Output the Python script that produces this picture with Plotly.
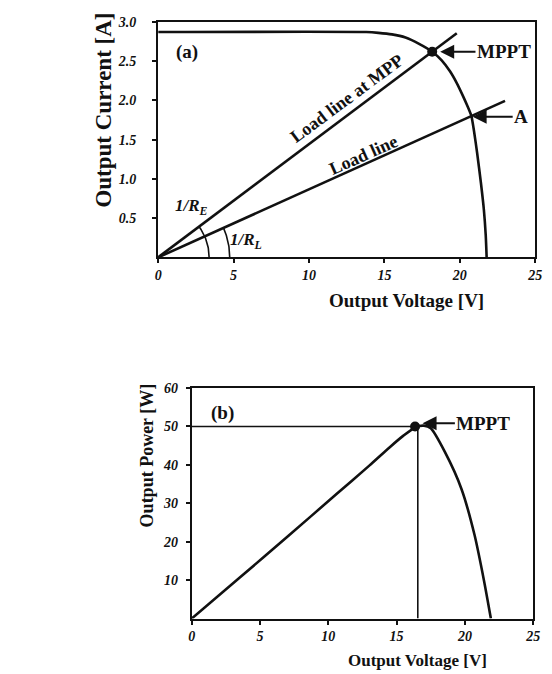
import numpy as np
import plotly.graph_objects as go

# ---------------- data ----------------
# (a) I-V curve
iv_v = [0, 13.8, 14.6, 15.5, 16.4, 17.3, 18.17, 18.8, 19.35, 19.8, 20.2, 20.5, 20.77, 20.95, 21.15, 21.4, 21.6, 21.72, 21.78]
iv_i = [2.87, 2.87, 2.86, 2.84, 2.80, 2.72, 2.62, 2.51, 2.37, 2.22, 2.06, 1.93, 1.80, 1.60, 1.33, 0.95, 0.60, 0.28, 0.0]
mpp_a = (18.17, 2.62)
pt_a = (20.77, 1.80)
load_mpp_end_v = 19.8
load_a_end_v = 23.0

# (b) P-V curve
pv_v = [0, 3.5, 7.0, 10.6, 13.0, 14.5, 15.5, 16.4, 17.0, 17.5, 18.54, 19.74, 20.7, 21.4, 21.9]
pv_p = [0, 10.6, 21.3, 32.4, 39.8, 44.6, 47.6, 49.8, 50.2, 49.5, 43.3, 33.8, 21.8, 9.8, 0.0]
mpp_b = (16.55, 50.0)
mpp_b_dot_v = 16.35

x_ticks = [0, 5, 10, 15, 20, 25]
ya_ticks = [0.5, 1.0, 1.5, 2.0, 2.5, 3.0]
ya_labels = ["0.5", "1.0", "1.5", "2.0", "2.5", "3.0"]
yb_ticks = [10, 20, 30, 40, 50, 60]

# ---------------- layout constants ----------------
W, H = 552, 674
dom_xa = [157.3 / W, 542 / W]
dom_ya = [1 - 253 / H, 1 - 15 / H]
dom_xb = [191.5 / W, 540 / W]
dom_yb = [1 - 618 / H, 1 - 385 / H]

SERIF = "Liberation Serif"
BLK = "#111111"

fig = go.Figure()

# I-V curve
fig.add_trace(go.Scatter(x=iv_v, y=iv_i, mode="lines", line=dict(color=BLK, width=2.6, shape="spline", smoothing=0.6),
                         xaxis="x", yaxis="y", hoverinfo="skip"))
# load lines
fig.add_trace(go.Scatter(x=[0, mpp_a[0], load_mpp_end_v],
                         y=[0, mpp_a[1], mpp_a[1] / mpp_a[0] * load_mpp_end_v],
                         mode="lines", line=dict(color=BLK, width=2.6), xaxis="x", yaxis="y"))
fig.add_trace(go.Scatter(x=[0, pt_a[0], load_a_end_v],
                         y=[0, pt_a[1], pt_a[1] / pt_a[0] * load_a_end_v],
                         mode="lines", line=dict(color=BLK, width=2.6), xaxis="x", yaxis="y"))
# MPP dot
fig.add_trace(go.Scatter(x=[mpp_a[0]], y=[mpp_a[1]], mode="markers", marker=dict(color=BLK, size=10),
                         xaxis="x", yaxis="y"))

# angle arcs (circular in screen space)
pxv_a = (dom_xa[1] - dom_xa[0]) * W / 25.0
pxi_a = (dom_ya[1] - dom_ya[0]) * H / 3.0
for (pv, pi), r in [(mpp_a, 52), (pt_a, 73)]:
    ang = np.arctan2(pi * pxi_a, pv * pxv_a)
    t = np.linspace(0, ang, 30)
    fig.add_trace(go.Scatter(x=r * np.cos(t) / pxv_a, y=r * np.sin(t) / pxi_a, mode="lines",
                             line=dict(color=BLK, width=1.6), xaxis="x", yaxis="y"))

# P-V curve
fig.add_trace(go.Scatter(x=pv_v, y=pv_p, mode="lines", line=dict(color=BLK, width=2.6, shape="spline", smoothing=0.7),
                         xaxis="x2", yaxis="y2"))
fig.add_trace(go.Scatter(x=[0, mpp_b[0], mpp_b[0]], y=[mpp_b[1], mpp_b[1], 0], mode="lines",
                         line=dict(color=BLK, width=1.6), xaxis="x2", yaxis="y2"))
fig.add_trace(go.Scatter(x=[mpp_b_dot_v], y=[mpp_b[1]], mode="markers", marker=dict(color=BLK, size=10),
                         xaxis="x2", yaxis="y2"))

tickfont = dict(family=SERIF, size=14, color=BLK, weight="bold", style="italic")
axcommon = dict(showgrid=False, zeroline=False, showline=True, linecolor=BLK, linewidth=2, mirror=True,
                ticks="outside", ticklen=4, tickwidth=1.5, tickcolor=BLK, tickfont=tickfont)

fig.update_layout(
    width=W, height=H, margin=dict(l=0, r=0, t=0, b=0),
    paper_bgcolor="white", plot_bgcolor="white", showlegend=False,
    xaxis=dict(domain=dom_xa, range=[0, 25], tickvals=x_ticks, anchor="y", **axcommon),
    yaxis=dict(domain=dom_ya, range=[0, 3], tickvals=ya_ticks, ticktext=ya_labels, anchor="x",
               ticklabelstandoff=13, **axcommon),
    xaxis2=dict(domain=dom_xb, range=[0, 25], tickvals=x_ticks, anchor="y2", **axcommon),
    yaxis2=dict(domain=dom_yb, range=[0, 60], tickvals=yb_ticks, anchor="x2",
                ticklabelstandoff=5, **axcommon),
)

labfont = dict(family=SERIF, size=18, color=BLK, weight="bold")
C = dict(xanchor="center", yanchor="middle")
ann = []
# axis titles
ann.append(dict(text="Output Voltage [V]", x=411 / W, y=1 - 297 / H, xref="paper", yref="paper",
                showarrow=False, font=dict(family=SERIF, size=19, color=BLK, weight="bold"), **C))
ann.append(dict(text="Output Current [A]", x=101.7 / W, y=1 - 104 / H, xref="paper", yref="paper",
                showarrow=False, textangle=-90, font=dict(family=SERIF, size=23, color=BLK, weight="bold"), **C))
ann.append(dict(text="Output Voltage [V]", x=421.7 / W, y=1 - 660 / H, xref="paper", yref="paper",
                showarrow=False, font=dict(family=SERIF, size=17, color=BLK, weight="bold"), **C))
ann.append(dict(text="Output Power [W]", x=146 / W, y=1 - 453 / H, xref="paper", yref="paper",
                showarrow=False, textangle=-90, font=dict(family=SERIF, size=18, color=BLK, weight="bold"), **C))
# panel labels
ann.append(dict(text="(a)", x=1.93, y=2.62, xref="x", yref="y", showarrow=False,
                font=dict(family=SERIF, size=19, color=BLK, weight="bold"), **C))
ann.append(dict(text="(b)", x=2.28, y=53.6, xref="x2", yref="y2", showarrow=False,
                font=dict(family=SERIF, size=19, color=BLK, weight="bold"), **C))
# line labels
ann.append(dict(text="Load line at MPP", x=12.55, y=2.03, xref="x", yref="y", showarrow=False,
                textangle=-36.6, font=labfont, **C))
ann.append(dict(text="Load line", x=13.6, y=1.31, xref="x", yref="y", showarrow=False,
                textangle=-24, font=labfont, **C))
ann.append(dict(text="<i>1/R<sub>E</sub></i>", x=2.24, y=0.647, xref="x", yref="y", showarrow=False,
                font=dict(family=SERIF, size=17, color=BLK, weight="bold"), **C))
ann.append(dict(text="<i>1/R<sub>L</sub></i>", x=5.8, y=0.205, xref="x", yref="y", showarrow=False,
                font=dict(family=SERIF, size=17, color=BLK, weight="bold"), **C))
# arrows with text
arrowfont = dict(family=SERIF, size=19, color=BLK, weight="bold")
arrow_common = dict(showarrow=True, arrowhead=2, arrowsize=1.4, arrowwidth=2, arrowcolor=BLK, font=arrowfont)
ann.append(dict(text="MPPT", x=18.7, y=2.62, ax=22.93, ay=2.62, xref="x", yref="y", axref="x", ayref="y",
                **arrow_common))
ann.append(dict(text="A", x=20.85, y=1.79, ax=24.07, ay=1.79, xref="x", yref="y", axref="x", ayref="y",
                **arrow_common))
ann.append(dict(text="MPPT", x=16.9, y=50.8, ax=21.35, ay=50.8, xref="x2", yref="y2", axref="x2", ayref="y2",
                **arrow_common))

fig.update_layout(annotations=ann)
fig.write_html(
    "out.html", config={"displayModeBar": False},
    post_script=("document.documentElement.style.margin='0';document.body.style.margin='0';"
                 "var d=document.getElementById('{plot_id}');d.style.position='fixed';"
                 "d.style.left='0px';d.style.top='0px';"))
